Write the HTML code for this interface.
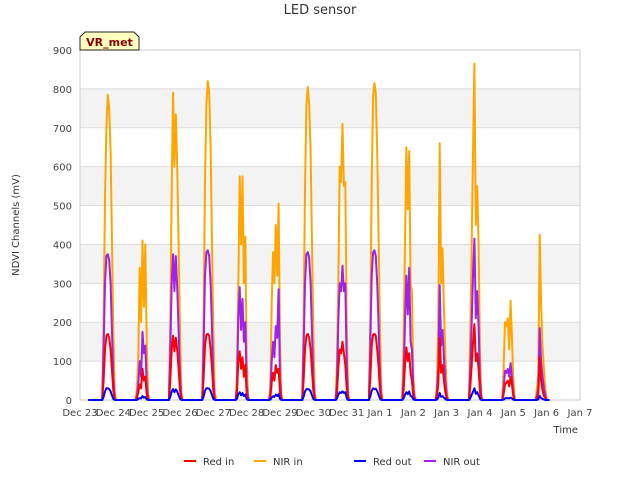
<!DOCTYPE html>
<html><head><meta charset="utf-8"><style>
body{margin:0;background:#fff;font-family:"Liberation Sans","DejaVu Sans",sans-serif;}
svg text{font-family:"DejaVu Sans","Liberation Sans",sans-serif;}
</style></head><body>
<svg id="chart" width="640" height="480" xmlns="http://www.w3.org/2000/svg">
<text x="320" y="14" text-anchor="middle" font-size="13" fill="#333">LED sensor</text>
<g id="bands"></g>
<g id="grid"></g>
<rect x="80" y="50" width="500" height="350" fill="none" stroke="#ccc"/>
<g id="yticks"></g>
<g id="xticks"></g>
<g id="series"></g>
<text transform="translate(19,225) rotate(-90)" text-anchor="middle" font-size="10" fill="#333">NDVI Channels (mV)</text>
<text x="578" y="433" text-anchor="end" font-size="10" fill="#333">Time</text>
<g>
<path d="M80,50 L80,37 L85,32 L134,32 L139,37 L139,50 Z" fill="#ffffc0" stroke="#222"/>
<text x="109.5" y="46" text-anchor="middle" font-size="11" font-weight="bold" fill="#8b0000">VR_met</text>
</g>
<g id="legend"></g>
</svg>
<script>
const dayLabels=["Dec 23","Dec 24","Dec 25","Dec 26","Dec 27","Dec 28","Dec 29","Dec 30","Dec 31","Jan 1","Jan 2","Jan 3","Jan 4","Jan 5","Jan 6","Jan 7"];
const yTicks=[0,100,200,300,400,500,600,700,800,900];
const seriesNames=["Red in","NIR in","Red out","NIR out"];
const seriesColors=["#ff0000","#ffa500","#0000ff","#a020f0"];
const sampleStartHour=16;
const nirIn=[
[0,200,520,700,785,750,640,420,180,20,0],
[0,30,110,340,200,410,240,400,150,20,0],
[0,200,540,790,600,735,600,400,180,20,0],
[0,210,560,760,820,790,650,420,180,20,0],
[0,60,290,575,400,575,300,420,100,10,0],
[0,30,250,380,300,450,320,505,150,10,0],
[0,200,540,760,805,760,640,420,180,20,0],
[0,90,300,600,560,710,550,560,200,20,0],
[0,210,560,780,815,790,640,420,180,20,0],
[0,150,400,650,490,640,300,280,60,10,0],
[0,40,200,660,300,390,240,120,30,0,0],
[0,180,400,650,865,450,550,400,120,10,0],
[0,80,200,190,210,130,255,160,60,0,0],
[0,30,60,425,250,140,80,30,0,0,0]];
const nirOut=[
[0,130,300,370,375,360,300,180,60,5,0],
[0,10,40,100,60,175,120,140,40,5,0],
[0,130,300,375,280,370,290,180,60,5,0],
[0,140,320,380,385,370,300,190,60,5,0],
[0,30,210,290,180,260,150,200,40,5,0],
[0,15,100,150,110,190,160,285,50,5,0],
[0,130,300,375,380,365,300,180,60,5,0],
[0,40,200,300,280,345,280,300,90,5,0],
[0,140,320,380,385,370,300,190,60,5,0],
[0,60,200,320,220,340,150,130,30,5,0],
[0,20,80,295,140,180,110,50,10,0,0],
[0,80,200,330,415,210,280,190,50,5,0],
[0,30,75,70,80,60,95,60,20,0,0],
[0,10,30,185,100,60,30,10,0,0,0]];
const redIn=[
[0,50,130,165,170,160,130,80,25,2,0],
[0,5,20,40,30,80,50,60,15,2,0],
[0,50,130,165,125,160,130,80,25,2,0],
[0,55,140,168,170,165,130,85,25,2,0],
[0,15,100,125,80,110,60,90,15,2,0],
[0,5,45,70,50,90,70,80,20,2,0],
[0,50,130,165,170,160,130,80,25,2,0],
[0,15,80,130,120,150,120,90,30,2,0],
[0,55,140,168,170,165,130,85,25,2,0],
[0,25,90,135,100,120,70,50,10,2,0],
[0,10,40,160,70,90,50,20,5,0,0],
[0,35,90,150,195,100,120,80,20,2,0],
[0,15,40,45,50,35,60,40,10,0,0],
[0,5,15,110,50,25,10,5,0,0,0]];
const redOut=[
[0,8,22,30,30,28,22,12,3,0,0],
[0,0,3,5,4,10,6,8,2,0,0],
[0,8,22,28,20,27,22,12,3,0,0],
[0,9,24,30,30,29,23,13,3,0,0],
[0,3,15,20,12,18,10,14,2,0,0],
[0,1,6,10,8,14,10,15,3,0,0],
[0,8,22,28,28,27,22,12,3,0,0],
[0,3,14,20,18,22,18,20,5,0,0],
[0,9,24,30,28,29,23,13,3,0,0],
[0,4,14,20,15,22,10,9,2,0,0],
[0,1,6,18,8,10,6,3,0,0,0],
[0,5,14,22,30,16,20,12,3,0,0],
[0,1,4,5,5,4,6,4,1,0,0],
[0,0,2,10,5,3,1,0,0,0,0]];
const allSeries=[redIn,nirIn,redOut,nirOut];

const NS="http://www.w3.org/2000/svg";
const X0=80,X1=580,Y0=400,Y1=50,YMAX=900;
function xScale(hours){return X0+hours/24*(X1-X0)/15;}
function yScale(v){return Y0-v/YMAX*(Y0-Y1);}
function mk(tag,attrs,parent){const e=document.createElementNS(NS,tag);for(const k in attrs)e.setAttribute(k,attrs[k]);parent.appendChild(e);return e;}
const bands=document.getElementById('bands');
for(let i=1;i<yTicks.length-1;i+=2){
 const r=mk('rect',{x:X0,y:yScale(yTicks[i+1]),width:X1-X0,height:yScale(yTicks[i])-yScale(yTicks[i+1]),fill:'#f3f3f3'},bands);
 
 
}
const grid=document.getElementById('grid'),yt=document.getElementById('yticks');
yTicks.forEach(v=>{
 const l=mk('line',{x1:X0,x2:X1,y1:yScale(v),y2:yScale(v),stroke:'#dcdcdc'},grid);
 
 
 const t=mk('text',{x:72,y:yScale(v)+4,'text-anchor':'end','font-size':10,fill:'#444'},yt);
 
 
 t.textContent=v;
});
const xt=document.getElementById('xticks');
dayLabels.forEach((d,i)=>{
 const t=mk('text',{x:xScale(i*24),y:416,'text-anchor':'middle','font-size':10,fill:'#444'},xt);
 
 
 t.textContent=d;
});
const sg=document.getElementById('series');
const drawOrder=[1,3,0,2];
drawOrder.forEach(si=>{
 const data=allSeries[si];
 let pts=[];
 pts.push([xScale(sampleStartHour-10),yScale(0)]);
 data.forEach((day,di)=>{
  day.forEach((v,hi)=>{pts.push([xScale(di*24+sampleStartHour+hi),yScale(v)]);});
 });
 const p=mk('polyline',{points:pts.map(p=>p[0].toFixed(1)+','+p[1].toFixed(1)).join(' '),fill:'none',stroke:seriesColors[si],'stroke-width':2,'stroke-linejoin':'round'},sg);
 
 
});
const lg=document.getElementById('legend');
const lx=[184,254,354,424];
seriesNames.forEach((n,i)=>{
 const g=mk('g',{},lg);
 
 
 mk('line',{x1:lx[i],x2:lx[i]+12,y1:461,y2:461,stroke:seriesColors[i],'stroke-width':2},g);
 const t=mk('text',{x:lx[i]+19,y:465,'font-size':10,fill:'#333'},g);
 t.textContent=n;
});
</script>
</body></html>
